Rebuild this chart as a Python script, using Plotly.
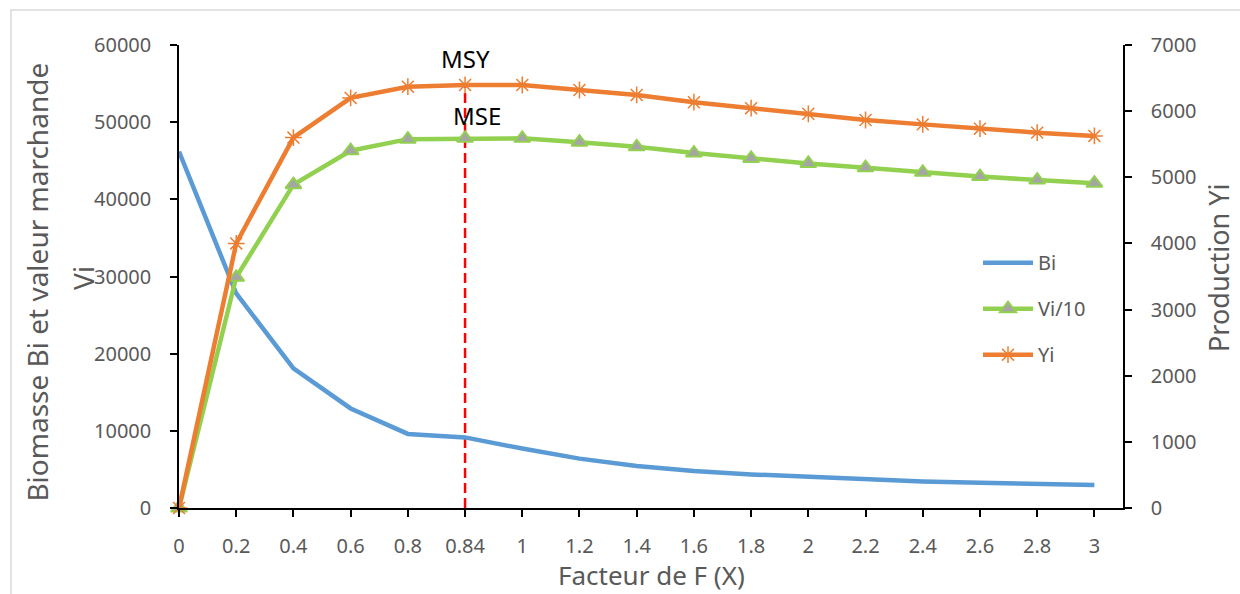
import plotly.graph_objects as go

F = ["0", "0.2", "0.4", "0.6", "0.8", "0.84", "1", "1.2", "1.4", "1.6", "1.8",
     "2", "2.2", "2.4", "2.6", "2.8", "3"]
Bi = [46200, 27800, 18100, 12900, 9600, 9150, 7700, 6400, 5450, 4800, 4350,
      4050, 3700, 3450, 3280, 3120, 2980]
Vi10 = [0, 29900, 41900, 46300, 47800, 47900, 47900, 47400, 46800, 46000, 45300,
        44650, 44100, 43500, 42950, 42500, 42100]
Yi = [0, 4000, 5600, 6200, 6370, 6395, 6395, 6320, 6245, 6135, 6045,
      5960, 5866, 5800, 5735, 5675, 5625]
MSY_X = "0.84"
yl_ticks = [0, 10000, 20000, 30000, 40000, 50000, 60000]
yr_ticks = [0, 1000, 2000, 3000, 4000, 5000, 6000, 7000]

FONT = "Noto Sans"
GREY = "#595959"

fig = go.Figure()
fig.add_trace(go.Scatter(x=F, y=Bi, name="Bi", mode="lines",
                         line=dict(color="#5B9BD5", width=4.5),
                         legendgroup="a", cliponaxis=False))
fig.add_trace(go.Scatter(x=F, y=Vi10, name="Vi/10", mode="lines+markers",
                         line=dict(color="#92D050", width=4.5),
                         marker=dict(symbol="triangle-up", size=14, color="#A5A5A5",
                                     line=dict(color="#92D050", width=2)),
                         legendgroup="b", cliponaxis=False))
fig.add_trace(go.Scatter(x=F, y=Yi, name="Yi", mode="lines+markers", yaxis="y2",
                         line=dict(color="#ED7D31", width=4.5),
                         marker=dict(symbol="asterisk-open", size=14, color="#ED7D31",
                                     line=dict(color="#ED7D31", width=1.5)),
                         legendgroup="c", cliponaxis=False))

idx = F.index(MSY_X)

fig.add_shape(type="line", xref="x", yref="y2", x0=idx, x1=idx, y0=0, y1=Yi[idx],
              line=dict(color="#FF0000", width=2.5, dash="10px,5px"), layer="below")

# outer frame
fig.add_shape(type="rect", xref="paper", yref="paper", x0=-0.178, x1=1.2, y0=-0.3, y1=1.0756,
              line=dict(color="#D9D9D9", width=1.5))

fig.add_annotation(x=idx, y=Yi[idx], yref="y2", text="MSY", showarrow=False,
                   yanchor="bottom", yshift=8, font=dict(family=FONT, size=24, color="black"))
fig.add_annotation(x=idx, y=Vi10[idx], yref="y", text="MSE", showarrow=False,
                   yanchor="bottom", yshift=4, xshift=12,
                   font=dict(family=FONT, size=24, color="black"))

title_font = dict(family=FONT, size=28, color=GREY)
fig.add_annotation(xref="paper", yref="paper", x=-0.1514, y=0.487, textangle=-90,
                   text="Biomasse Bi et valeur marchande", showarrow=False,
                   xanchor="center", yanchor="middle", font=title_font)
fig.add_annotation(xref="paper", yref="paper", x=-0.1017, y=0.497, textangle=-90,
                   text="Vi", showarrow=False, xanchor="center", yanchor="middle", font=title_font)
fig.add_annotation(xref="paper", yref="paper", x=1.1006, y=0.5205, textangle=-90,
                   text="Production Yi", showarrow=False, xanchor="center", yanchor="middle",
                   font=dict(family=FONT, size=27, color=GREY))
fig.add_annotation(xref="paper", yref="paper", x=0.5, y=(508 - 575) / 463,
                   text="Facteur de F (X)", showarrow=False, xanchor="center", yanchor="middle",
                   font=dict(family=FONT, size=26, color=GREY))

tick_font = dict(family=FONT, size=20, color=GREY)
axis_common = dict(showline=True, linecolor="black", linewidth=1.5, showgrid=False,
                   zeroline=False, tickcolor="black", tickwidth=1.5, ticklen=7)

fig.update_layout(
    width=1240, height=594,
    margin=dict(l=179, r=117, t=45, b=86),
    paper_bgcolor="white", plot_bgcolor="white",
    showlegend=True,
    legend=dict(x=(978 - 179) / 944, y=0.572, xanchor="left", yanchor="top",
                font=dict(family=FONT, size=20, color=GREY), itemwidth=50,
                tracegroupgap=17, bgcolor="rgba(0,0,0,0)"),
    xaxis=dict(type="category", range=[0, 16.5], ticks="outside", tickfont=tick_font,
               ticklabelstandoff=12, **axis_common),
    yaxis=dict(range=[0, 60000], tickvals=yl_ticks, tickformat="d", ticks="outside",
               tickfont=tick_font, ticklabelstandoff=15, **axis_common),
    yaxis2=dict(range=[0, 7000], tickvals=yr_ticks, tickformat="d", overlaying="y",
                side="right", ticks="outside", tickfont=tick_font, ticklabelstandoff=15,
                **axis_common),
    xaxis3=dict(overlaying="x", range=[0, 16.5], tickvals=list(range(len(F))), ticks="inside",
                showticklabels=False, anchor="y", side="bottom", **axis_common),
    yaxis3=dict(overlaying="y", range=[0, 60000], tickvals=yl_ticks, ticks="inside",
                showticklabels=False, anchor="x", side="left", **axis_common),
    yaxis4=dict(overlaying="y", range=[0, 7000], tickvals=yr_ticks, ticks="inside",
                showticklabels=False, anchor="x", side="right", **axis_common),
)

fig.write_html("out.html")
